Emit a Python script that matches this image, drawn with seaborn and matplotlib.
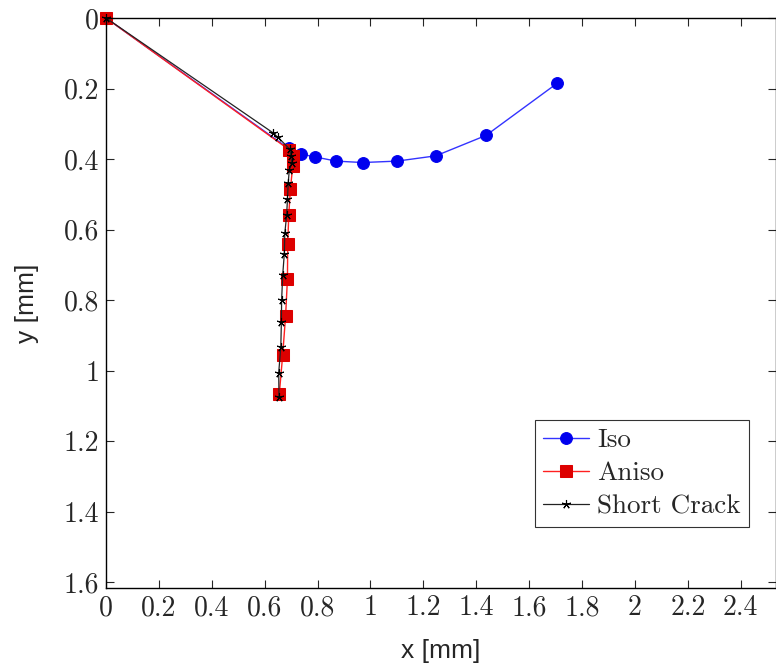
import matplotlib
matplotlib.use('Agg')
import matplotlib.pyplot as plt
import seaborn as sns

# crack path data [mm]
iso_x = [0, 0.69, 0.737, 0.79, 0.87, 0.97, 1.10, 1.247, 1.437, 1.706]
iso_y = [0, 0.37, 0.386, 0.394, 0.406, 0.41, 0.406, 0.391, 0.333, 0.185]

aniso_x = [0, 0.693, 0.706, 0.706, 0.697, 0.691, 0.687, 0.686, 0.679, 0.668, 0.655]
aniso_y = [0, 0.374, 0.391, 0.420, 0.486, 0.559, 0.642, 0.740, 0.845, 0.956, 1.068]

short_x = [0, 0.630, 0.651, 0.696, 0.698, 0.702, 0.693, 0.689, 0.686, 0.683, 0.676,
           0.674, 0.668, 0.664, 0.663, 0.661, 0.653, 0.654]
short_y = [0, 0.325, 0.339, 0.373, 0.391, 0.412, 0.431, 0.467, 0.514, 0.559, 0.611,
           0.670, 0.730, 0.800, 0.862, 0.932, 1.006, 1.074]

xticks = [0, 0.2, 0.4, 0.6, 0.8, 1, 1.2, 1.4, 1.6, 1.8, 2, 2.2, 2.4]
yticks = [0, 0.2, 0.4, 0.6, 0.8, 1, 1.2, 1.4, 1.6]

sns.set_style('ticks')
plt.rcParams['font.family'] = ['cmr10', 'DejaVu Serif']
plt.rcParams['axes.formatter.use_mathtext'] = True

fig = plt.figure(figsize=(7.76, 6.66), dpi=100)
ax = fig.add_axes([106 / 776, 1 - 588 / 666, 1 - 106 / 776, 570 / 666])

sns.lineplot(x=iso_x, y=iso_y, sort=False, ax=ax, color='#3333ff', lw=1.0,
             marker='o', markersize=8.5, markerfacecolor='#0000ee',
             markeredgecolor='#0000ee', label='Iso', estimator=None, clip_on=False)
sns.lineplot(x=aniso_x, y=aniso_y, sort=False, ax=ax, color='#ff2020', lw=1.0,
             marker='s', markersize=8, markerfacecolor='#dd0000',
             markeredgecolor='#dd0000', label='Aniso', estimator=None, clip_on=False)
sns.lineplot(x=short_x, y=short_y, sort=False, ax=ax, color='#222222', lw=0.9,
             marker=(5, 2, 0), markersize=6.5, markeredgewidth=0.8,
             markeredgecolor='black', label='Short Crack', estimator=None, clip_on=False)

ax.set_xlim(0, 670 / 264.5)
ax.set_ylim(1.617, 0)
ax.set_xticks(xticks)
ax.set_yticks(yticks)
ax.set_xticklabels([f'{t:g}' for t in xticks])
ax.set_yticklabels([f'{t:g}' for t in yticks])
ax.tick_params(direction='in', length=6, width=0.8, top=True, right=True,
               labelsize=20, pad=5)
for s in ax.spines.values():
    s.set_linewidth(1.0)
    s.set_color('black')

lab_font = ['Liberation Sans Narrow', 'Liberation Sans', 'DejaVu Sans']
ax.set_xlabel('x [mm]', fontsize=19, family=lab_font, labelpad=13)
ax.set_ylabel('y [mm]', fontsize=19, family=lab_font, labelpad=18)

leg = ax.legend(loc='lower right', bbox_to_anchor=(1 - 27 / 670, (588 - 527) / 570),
                fontsize=19.5, frameon=True, fancybox=False, edgecolor='black',
                handlelength=1.7, handletextpad=0.3, borderpad=0.3,
                labelspacing=0.35, borderaxespad=0)
leg.get_frame().set_linewidth(0.8)

fig.savefig('out.png', dpi=100)
